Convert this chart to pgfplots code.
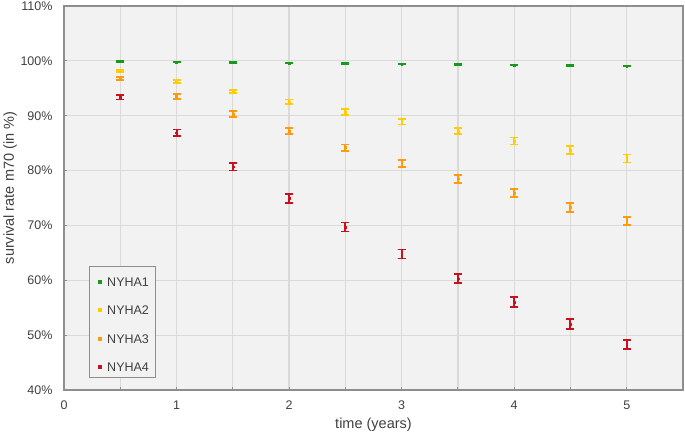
\documentclass[border=0pt]{standalone}
\usepackage{fontspec}
\setmainfont{Liberation Sans}
\usepackage{pgfplots}
\pgfplotsset{compat=1.18}

\definecolor{nyone}{HTML}{17991A}
\definecolor{nytwo}{HTML}{FFCC00}
\definecolor{nythree}{HTML}{FF9A0A}
\definecolor{nyfour}{HTML}{C8101E}
\definecolor{bgcol}{HTML}{F2F2F2}
\definecolor{gridcol}{HTML}{DADADA}
\definecolor{framecol}{HTML}{8E8E8E}
\definecolor{txtcol}{HTML}{404040}

\pgfplotsset{
  surv/.style={
    color=#1, only marks, mark=square*, mark size=0.9bp, forget plot,
    error bars/.cd, y dir=both, y explicit,
    error bar style={line width=2bp, color=#1},
    error mark options={rotate=90, line width=1.8bp, mark size=4bp, color=#1},
  },
}

\begin{document}
\begin{tikzpicture}
\path[use as bounding box] (-64bp,-45bp) rectangle (621bp,390bp);
\begin{axis}[
    scale only axis,
    width=619bp,
    height=384bp,
    xmin=0, xmax=5.5,
    ymin=40, ymax=110,
    axis background/.style={fill=bgcol},
    axis line style={draw=framecol, line width=1.5bp},
    grid=major,
    grid style={draw=gridcol, line width=1.2bp},
    xtick={0,0.5,...,5},
    xticklabels={0,,1,,2,,3,,4,,5},
    ytick={40,50,...,110},
    yticklabels={40\%,50\%,60\%,70\%,80\%,90\%,100\%,110\%},
    tick pos=left,
    tick align=inside,
    major tick length=3bp,
    tick style={draw=framecol, line width=1bp},
    tick label style={font=\fontsize{12.5bp}{15bp}\selectfont, text=txtcol},
    xticklabel style={yshift=-7bp},
    yticklabel style={xshift=-8bp},
    label style={font=\fontsize{14.5bp}{17bp}\selectfont, text=txtcol},
    xlabel={time (years)},
    ylabel={survival rate m70 (in \%)},
    xlabel style={at={(axis description cs:0.5,-0.091)}, anchor=center},
    ylabel style={at={(axis description cs:-0.087,0.526)}, anchor=center},
    legend style={
      at={(rel axis cs:0.04,0.031)}, anchor=south west,
      draw=framecol, fill=bgcol, line width=1bp,
      font=\fontsize{12.5bp}{15bp}\selectfont, text=txtcol,
      nodes={text height=14bp, text depth=0pt},
      row sep=10.4bp, inner xsep=5bp, inner ysep=4bp,
    },
    legend image code/.code={
      \path (0bp,0bp) (10bp,0bp);
      \draw[#1] plot coordinates {(5bp,-2.5bp)};
    },
    legend cell align=left,
]

\addplot[surv=nyone] table[x=t, y=s, y error=e] {
t   s      e
0.5 99.85  0.08
1.0 99.79  0.08
1.5 99.67  0.08
2.0 99.60  0.08
2.5 99.55  0.08
3.0 99.43  0.08
3.5 99.37  0.08
4.0 99.25  0.08
4.5 99.12  0.08
5.0 99.06  0.08
};

\addplot[surv=nytwo] table[x=t, y=s, y error=e] {
t   s      e
0.5 98.10  0.20
1.0 96.20  0.27
1.5 94.40  0.33
2.0 92.55  0.39
2.5 90.70  0.50
3.0 88.90  0.52
3.5 87.20  0.60
4.0 85.40  0.64
4.5 83.75  0.67
5.0 82.20  0.73
};

\addplot[surv=nythree] table[x=t, y=s, y error=e] {
t   s      e
0.5 96.80  0.30
1.0 93.50  0.52
1.5 90.30  0.52
2.0 87.20  0.52
2.5 84.20  0.57
3.0 81.30  0.60
3.5 78.50  0.73
4.0 75.90  0.73
4.5 73.30  0.79
5.0 70.80  0.79
};

\addplot[surv=nyfour] table[x=t, y=s, y error=e] {
t   s      e
0.5 93.35  0.40
1.0 86.90  0.57
1.5 80.70  0.67
2.0 74.95  0.79
2.5 69.70  0.82
3.0 64.80  0.82
3.5 60.30  0.85
4.0 56.00  0.88
4.5 52.00  0.88
5.0 48.30  0.82
};

\addlegendimage{only marks, mark=square*, mark size=1.6bp, nyone}
\addlegendentry{NYHA1}
\addlegendimage{only marks, mark=square*, mark size=1.6bp, nytwo}
\addlegendentry{NYHA2}
\addlegendimage{only marks, mark=square*, mark size=1.6bp, nythree}
\addlegendentry{NYHA3}
\addlegendimage{only marks, mark=square*, mark size=1.6bp, nyfour}
\addlegendentry{NYHA4}

\end{axis}
\end{tikzpicture}
\end{document}
